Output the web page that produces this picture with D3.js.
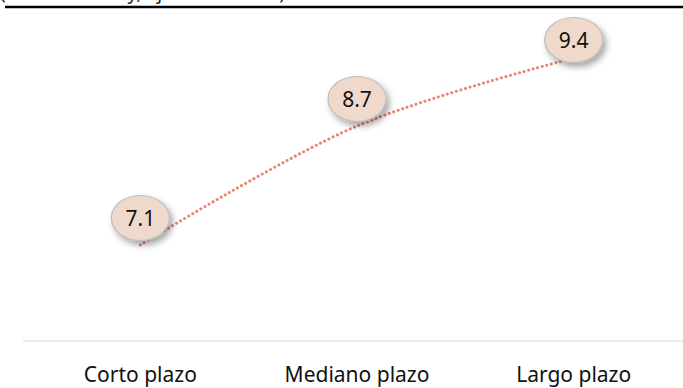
<!DOCTYPE html>
<html>
<head>
<meta charset="utf-8">
<script src="https://cdn.jsdelivr.net/npm/d3@7"></script>
<style>
  html, body { margin: 0; padding: 0; background: #fff; }
  svg { display: block; font-family: "Noto Sans", "Open Sans", sans-serif; }
</style>
</head>
<body>
<svg id="chart"></svg>
<script>
// data
const categories = ["Corto plazo", "Mediano plazo", "Largo plazo"];
const values = [7.1, 8.7, 9.4];
const subtitle = "(Tasa anual hoy, ajuste en tasas)";

const width = 683, height = 388;

const svg = d3.select("#chart")
    .attr("width", width)
    .attr("height", height);

// drop shadow for the bubbles
const defs = svg.append("defs");
const shadow = defs.append("filter")
    .attr("id", "shadow")
    .attr("x", "-40%").attr("y", "-40%")
    .attr("width", "180%").attr("height", "180%");
shadow.append("feDropShadow")
    .attr("dx", 3).attr("dy", 4)
    .attr("stdDeviation", 3)
    .attr("flood-color", "#000")
    .attr("flood-opacity", 0.35);

// subtitle mostly cut off above the frame
svg.append("text")
    .attr("x", 0)
    .attr("y", -1)
    .attr("font-size", 19)
    .attr("fill", "#222")
    .text(subtitle);

// thick rule at top
svg.append("line")
    .attr("x1", 5).attr("x2", width)
    .attr("y1", 7).attr("y2", 7)
    .attr("stroke", "#000")
    .attr("stroke-width", 2.5);

const xScale = d3.scaleBand()
    .domain(categories)
    .range([32, 682]);

// the source chart is not evenly spaced in y, so a piecewise scale is used
const yScale = d3.scaleLinear()
    .domain([5.8, 7.1, 8.7, 9.4])
    .range([341, 245, 126, 58]);

const baseY = yScale.range()[0];

// x axis
const xAxisG = svg.append("g")
    .attr("transform", `translate(0,${baseY})`)
    .call(d3.axisBottom(xScale).tickSize(0).tickPadding(26));
xAxisG.select(".domain").remove();
xAxisG.selectAll("text")
    .attr("font-size", 21)
    .attr("font-family", "Noto Sans, Open Sans, sans-serif")
    .attr("fill", "#111");

svg.append("line")
    .attr("x1", 23).attr("x2", width)
    .attr("y1", baseY).attr("y2", baseY)
    .attr("stroke", "#d9d9d9")
    .attr("stroke-width", 1);

const pts = categories.map((c, i) => ({ cat: c, val: values[i] }));
const cx = d => xScale(d.cat) + xScale.bandwidth() / 2;

// smoothed dotted line
const line = d3.line()
    .x(cx)
    .y(d => yScale(d.val))
    .curve(d3.curveCatmullRom.alpha(0.5));

svg.append("path")
    .datum(pts)
    .attr("d", line)
    .attr("fill", "none")
    .attr("stroke", "#ea8670")
    .attr("stroke-width", 3)
    .attr("stroke-linecap", "round")
    .attr("stroke-dasharray", "0.1 4.6");

// bubble labels, above the point but kept below the top rule
const bubbles = svg.selectAll(".bubble")
    .data(pts)
    .join("g")
    .attr("class", "bubble")
    .attr("transform", d => `translate(${cx(d)},${Math.max(yScale(d.val) - 27, 40)})`);

bubbles.append("ellipse")
    .attr("rx", 29)
    .attr("ry", 22.5)
    .attr("fill", "#efd9cb")
    .attr("stroke", "#bdbdbd")
    .attr("stroke-width", 1.2)
    .attr("filter", "url(#shadow)");

bubbles.append("text")
    .attr("text-anchor", "middle")
    .attr("dy", "0.36em")
    .attr("font-size", 21)
    .attr("fill", "#111")
    .text(d => d3.format(".1f")(d.val));
</script>
</body>
</html>
